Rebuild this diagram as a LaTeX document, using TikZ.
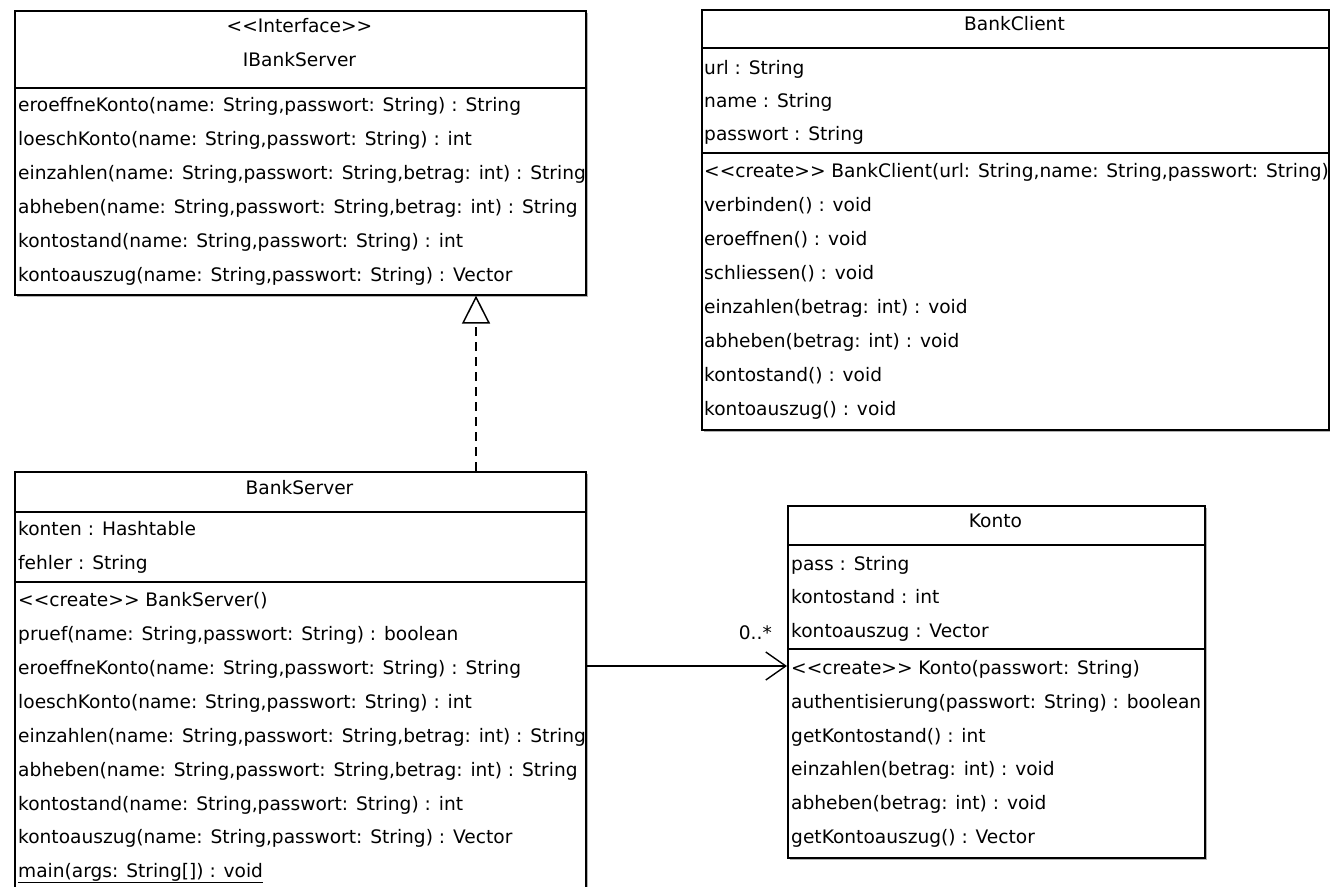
\documentclass[tikz,border=0pt]{standalone}
\usepackage{fontspec}
% plain family without TeX ligature mapping, so that << and >> stay as typed
\newfontfamily\umlface{DejaVu Sans}
\usetikzlibrary{arrows.meta,shadows}

\newcommand\umlfont{\umlface\fontsize{18.6}{22}\selectfont}

\tikzset{
  classbox/.style={rectangle, draw=black, line width=1.6pt, fill=white,
    anchor=north west, inner sep=0pt,
    drop shadow={shadow xshift=2pt, shadow yshift=-2pt, fill=black, opacity=0.3}},
  compsep/.style={draw=black, line width=1.5pt},
  member/.style={anchor=mid west, inner sep=0pt, font=\umlfont},
  ctitle/.style={anchor=mid, inner sep=0pt, font=\umlfont},
  realize/.style={line width=1.5pt, dash pattern=on 9pt off 6pt,
    -{Triangle[open, length=28pt, width=28pt, line width=1.5pt]}},
  assoc/.style={line width=1.4pt,
    -{Straight Barb[length=20pt, width=28pt, line width=1.4pt]}},
  mult/.style={anchor=mid east, inner sep=0pt, font=\umlfont}
}

\begin{document}
\begin{tikzpicture}[x=1pt, y=-1pt]
  \useasboundingbox (0,0) rectangle (1330,886);
  \clip (0,0) rectangle (1330,886);

  % ---------- interface IBankServer ----------
  \node[classbox, minimum width=571pt, minimum height=284pt] (ibs) at (14,10) {};
  \draw[compsep] (ibs.west |- 0,88) -- (ibs.east |- 0,88);
  \node[ctitle] (ibs-st) at (299.5,30) {<<Interface>>};
  \node[ctitle] (ibs-t) at (299.5,64) {IBankServer};
  \node[member] (ibs-m1) at (18,109) {eroeffneKonto(name: String,passwort: String) : String};
  \node[member] (ibs-m2) at (18,143) {loeschKonto(name: String,passwort: String) : int};
  \node[member] (ibs-m3) at (18,177) {einzahlen(name: String,passwort: String,betrag: int) : String};
  \node[member] (ibs-m4) at (18,211) {abheben(name: String,passwort: String,betrag: int) : String};
  \node[member] (ibs-m5) at (18,245) {kontostand(name: String,passwort: String) : int};
  \node[member] (ibs-m6) at (18,279) {kontoauszug(name: String,passwort: String) : Vector};

  % ---------- class BankClient ----------
  \node[classbox, minimum width=627pt, minimum height=420pt] (bc) at (701,9) {};
  \draw[compsep] (bc.west |- 0,48) -- (bc.east |- 0,48);
  \draw[compsep] (bc.west |- 0,153) -- (bc.east |- 0,153);
  \node[ctitle] (bc-t) at (1014.5,28) {BankClient};
  \node[member] (bc-a1) at (704,72) {url : String};
  \node[member] (bc-a2) at (704,105) {name : String};
  \node[member] (bc-a3) at (704,138) {passwort : String};
  \node[member] (bc-m1) at (704,175) {<<create>> BankClient(url: String,name: String,passwort: String)};
  \node[member] (bc-m2) at (704,209) {verbinden() : void};
  \node[member] (bc-m3) at (704,243) {eroeffnen() : void};
  \node[member] (bc-m4) at (704,277) {schliessen() : void};
  \node[member] (bc-m5) at (704,311) {einzahlen(betrag: int) : void};
  \node[member] (bc-m6) at (704,345) {abheben(betrag: int) : void};
  \node[member] (bc-m7) at (704,379) {kontostand() : void};
  \node[member] (bc-m8) at (704,413) {kontoauszug() : void};

  % ---------- class BankServer ----------
  \node[classbox, minimum width=571pt, minimum height=440pt] (bs) at (14,471) {};
  \draw[compsep] (bs.west |- 0,512) -- (bs.east |- 0,512);
  \draw[compsep] (bs.west |- 0,582) -- (bs.east |- 0,582);
  \node[ctitle] (bs-t) at (299.5,492) {BankServer};
  \node[member] (bs-a1) at (18,533) {konten : Hashtable};
  \node[member] (bs-a2) at (18,567) {fehler : String};
  \node[member] (bs-m1) at (18,604) {<<create>> BankServer()};
  \node[member] (bs-m2) at (18,638) {pruef(name: String,passwort: String) : boolean};
  \node[member] (bs-m3) at (18,672) {eroeffneKonto(name: String,passwort: String) : String};
  \node[member] (bs-m4) at (18,706) {loeschKonto(name: String,passwort: String) : int};
  \node[member] (bs-m5) at (18,740) {einzahlen(name: String,passwort: String,betrag: int) : String};
  \node[member] (bs-m6) at (18,774) {abheben(name: String,passwort: String,betrag: int) : String};
  \node[member] (bs-m7) at (18,808) {kontostand(name: String,passwort: String) : int};
  \node[member] (bs-m8) at (18,841) {kontoauszug(name: String,passwort: String) : Vector};
  \node[member] (bs-m9) at (18,875) {\underline{main(args: String[]) : void}};

  % ---------- class Konto ----------
  \node[classbox, minimum width=417pt, minimum height=352pt] (konto) at (787,505) {};
  \draw[compsep] (konto.west |- 0,545) -- (konto.east |- 0,545);
  \draw[compsep] (konto.west |- 0,649) -- (konto.east |- 0,649);
  \node[ctitle] (k-t) at (995.5,525) {Konto};
  \node[member] (k-a1) at (791,568) {pass : String};
  \node[member] (k-a2) at (791,601) {kontostand : int};
  \node[member] (k-a3) at (791,635) {kontoauszug : Vector};
  \node[member] (k-m1) at (791,672) {<<create>> Konto(passwort: String)};
  \node[member] (k-m2) at (791,706) {authentisierung(passwort: String) : boolean};
  \node[member] (k-m3) at (791,740) {getKontostand() : int};
  \node[member] (k-m4) at (791,773) {einzahlen(betrag: int) : void};
  \node[member] (k-m5) at (791,807) {abheben(betrag: int) : void};
  \node[member] (k-m6) at (791,841) {getKontoauszug() : Vector};

  % ---------- relations ----------
  \coordinate (realx) at (476,0);
  \draw[realize] (bs.north -| realx) -- (ibs.south -| realx);

  \coordinate (assocy) at (0,666);
  \draw[assoc] (bs.east |- assocy) -- (konto.west |- assocy);
  \node[mult] (k-mult) at (772,637) {0..*};
\end{tikzpicture}
\end{document}
